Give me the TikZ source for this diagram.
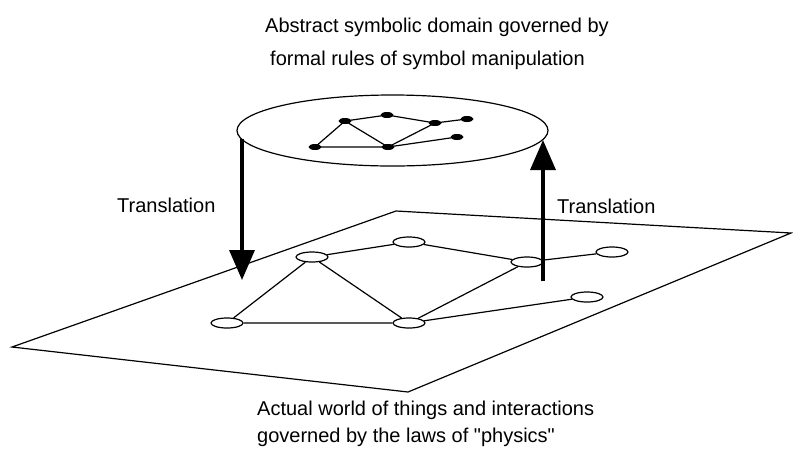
\documentclass[tikz,border=0pt]{standalone}
\usepackage{fontspec}
\setmainfont{Liberation Sans}
\usetikzlibrary{shapes.geometric,arrows.meta}
\tikzset{
  thinline/.style={line width=1.2pt},
  onode/.style={ellipse, draw, thinline, fill=white, minimum width=32pt, minimum height=10pt, inner sep=0pt},
  bnode/.style={ellipse, fill=black, minimum width=13pt, minimum height=6pt, inner sep=0pt},
  lbl/.style={anchor=base west, inner sep=0pt, font=\fontsize{20}{24}\selectfont},
  bigarrow/.style={line width=3.5pt, -{Triangle[length=30pt,width=25pt]}},
}
\begin{document}
\begin{tikzpicture}[x=1pt,y=-1pt]
\useasboundingbox (0,0) rectangle (793,448);
% plane
\coordinate (p1) at (396,211);
\coordinate (p2) at (791,233);
\coordinate (p3) at (408,392);
\coordinate (p4) at (12,347);
\draw[thinline, line join=miter] (p1) -- (p2) -- (p3) -- (p4) -- cycle;
% plane graph
\node[onode] (A) at (227,323) {};
\node[onode] (B) at (312,257) {};
\node[onode] (C) at (409,242) {};
\node[onode] (D) at (527,262) {};
\node[onode] (E) at (612,252) {};
\node[onode] (F) at (587,297) {};
\node[onode] (G) at (409,323) {};
\draw[thinline] (A) -- (B) (A) -- (G) (B) -- (C) (B) -- (G) (C) -- (D) (D) -- (E) (D) -- (G) (G) -- (F);
% symbolic domain
\node[ellipse, draw, thinline, minimum width=311pt, minimum height=71pt, inner sep=0pt] (dom) at (392.5,130.5) {};
\node[bnode] (a1) at (345,121) {};
\node[bnode] (a2) at (387,115) {};
\node[bnode] (a3) at (435,123) {};
\node[bnode] (a4) at (467,119) {};
\node[bnode] (a5) at (315,147) {};
\node[bnode] (a6) at (388,147) {};
\node[bnode] (a7) at (457,137) {};
\draw[thinline] (a5.center) -- (a1.center) -- (a2.center) -- (a3.center) -- (a4.center)
  (a1.center) -- (a6.center) (a5.center) -- (a6.center) -- (a3.center) (a6.center) -- (a7.center);
% arrows
\coordinate (l1) at (242,139);
\coordinate (l2) at (242,280);
\coordinate (r1) at (543,281);
\coordinate (r2) at (543,140);
\draw[bigarrow] (l1) -- (l2);
\draw[bigarrow] (r1) -- (r2);
% labels
\node[lbl] (t1) at (265,32) {Abstract symbolic domain governed by};
\node[lbl] (t2) at (270,65) {formal rules of symbol manipulation};
\node[lbl] (tl) at (117,212) {Translation};
\node[lbl] (tr) at (557,213) {Translation};
\node[lbl] (b1) at (257,415) {Actual world of things and interactions};
\node[lbl] (b2) at (257,442.5) {governed by the laws of \textquotedbl physics\textquotedbl};
\end{tikzpicture}
\end{document}
